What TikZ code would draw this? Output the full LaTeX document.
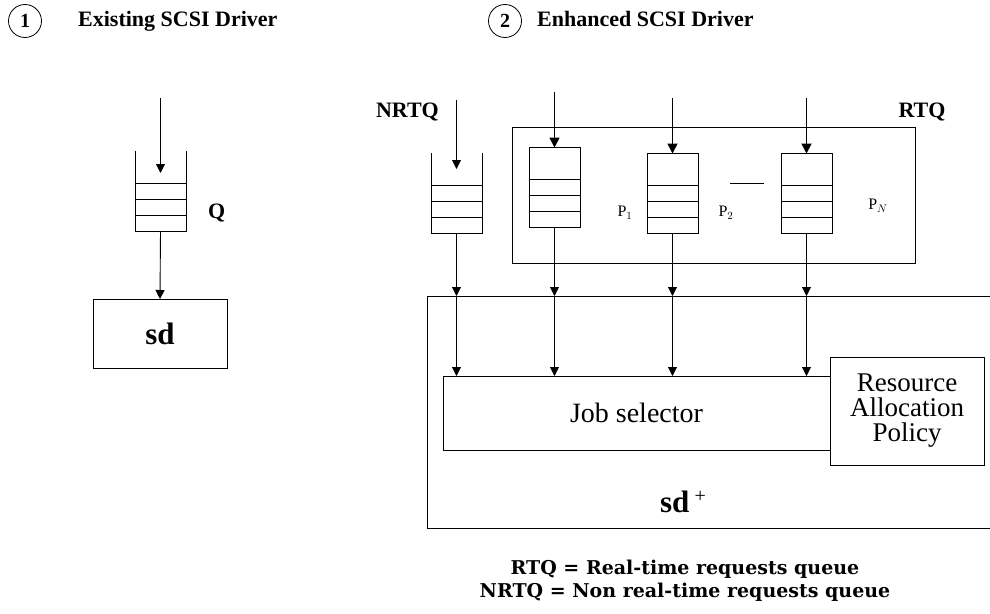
\documentclass[tikz,border=0pt]{standalone}
\usepackage{fontspec}
\setmainfont{Liberation Serif}
\newfontfamily\headfont{DejaVu Serif}
\usetikzlibrary{arrows.meta}
\tikzset{
  feed/.style={line width=0.9pt, -{Triangle[width=9pt,length=9pt]}},
  feedbold/.style={line width=1.7pt, -{Triangle[width=10pt,length=10pt]}},
  slotq/.style={minimum width=51pt, minimum height=80pt, inner sep=0pt, outer sep=0pt},
  closedq/.style={slotq, draw, line width=0.9pt},
  heading/.style={font=\bfseries\fontsize{22}{26}\selectfont, inner sep=0pt},
  numcirc/.style={draw, circle, line width=0.8pt, minimum size=33pt, inner sep=0pt,
    font=\bfseries\fontsize{20}{22}\selectfont},
  tag/.style={font=\bfseries\fontsize{22}{26}\selectfont, inner sep=0pt},
  plabel/.style={font=\fontsize{16}{18}\selectfont, inner sep=0pt},
  box/.style={draw, line width=0.9pt, inner sep=0pt, outer sep=0pt},
  roman/.style={font=\fontsize{28}{24}\selectfont},
  policy/.style={font=\fontsize{27}{25}\selectfont, align=center},
  legend/.style={font=\headfont\bfseries\fontsize{19}{23}\selectfont, align=center, inner sep=0pt},
}
\begin{document}
\begin{tikzpicture}[x=1pt,y=-1pt]
\useasboundingbox (0,0) rectangle (990,613);

% headings
\node[numcirc] (c1) at (25,21) {1};
\node[heading, anchor=base west] (h1) at (78,27) {Existing SCSI Driver};
\node[numcirc] (c2) at (505,21) {2};
\node[heading, anchor=base west] (h2) at (537,27) {Enhanced SCSI Driver};

% existing driver: single queue feeding sd
\node[slotq] (q0) at (160.5,191) {};
\node[tag, anchor=west] (qlab) at (208,213) {Q};
\node[box, minimum width=134pt, minimum height=69pt,
      font=\bfseries\fontsize{31}{34}\selectfont] (sd) at (160,333.5) {sd};
\coordinate (in0) at (160.5,98);
\draw[feed] (in0) -- ([yshift=-22pt]q0.north);
\draw[feed] (q0.south) -- (sd.north);

% enhanced driver: real-time queue group
\node[box, minimum width=403pt, minimum height=136pt] (rtqbox) at (713.5,195) {};
\node[tag, anchor=base east] (nrtqlab) at (439,117) {NRTQ};
\node[tag, anchor=base] (rtqlab) at (922,117) {RTQ};

\node[slotq] (nq) at (456.5,193) {};
\node[closedq] (p1) at (554.5,187.5) {};
\node[closedq] (p2) at (672.5,193.5) {};
\node[closedq] (pn) at (806.5,193.5) {};

\node[plabel] (p1lab) at (625,213) {P$_1$};
\node[plabel] (p2lab) at (726,213) {P$_2$};
\node[plabel] (pnlab) at (878,206) {P$_N$};
\node[inner sep=0pt] (dots) at (747,183) {\rule{34pt}{1pt}};

% open walls of the unframed queues
\foreach \q in {q0,nq}
  \draw[line width=0.9pt] (\q.north west) -- (\q.south west) -- (\q.south east) -- (\q.north east);
% queued request slots
\foreach \q in {q0,nq,p1,p2,pn}
  \foreach \h in {16,32,48}
    \draw[line width=0.9pt] ([yshift=\h pt]\q.south west) -- ([yshift=\h pt]\q.south east);

% incoming requests
\coordinate (innq) at (456.5,100);
\coordinate (inp1) at (554.5,92);
\coordinate (inp2) at (672.5,98);
\coordinate (inpn) at (806.5,98);
\draw[feed] (innq) -- ([yshift=-16pt]nq.north);
\draw[feedbold] (inp1) -- (p1.north);
\draw[feedbold] (inp2) -- (p2.north);
\draw[feedbold] (inpn) -- (pn.north);

% sd+ driver body
\coordinate (sdtop) at (427,296);
\draw[line width=0.9pt] (995,296) -- (sdtop) -- (427,528) -- (995,528);
\node[box, minimum width=387pt, minimum height=74pt, roman] (js) at (636.5,413) {Job selector};
\node[box, minimum width=154pt, minimum height=108pt, policy, fill=white]
  (rap) at (907,411) {Resource\\Allocation\\Policy};
\node[font=\bfseries\fontsize{31}{34}\selectfont, inner sep=0pt] (sdplus) at (683,502)
  {sd\,\raisebox{10pt}{\mdseries\fontsize{20}{20}\selectfont +}};

% queue outputs into the job selector
\foreach \q in {nq,p1,p2,pn} {
  \draw[feed] (\q.south) -- (\q.south |- sdtop);
  \draw[feed] (\q.south |- sdtop) -- (\q.south |- js.north);
}

% legend
\node[legend] (key) at (685,581) {RTQ = Real-time requests queue\\NRTQ = Non real-time requests queue};
\end{tikzpicture}
\end{document}
